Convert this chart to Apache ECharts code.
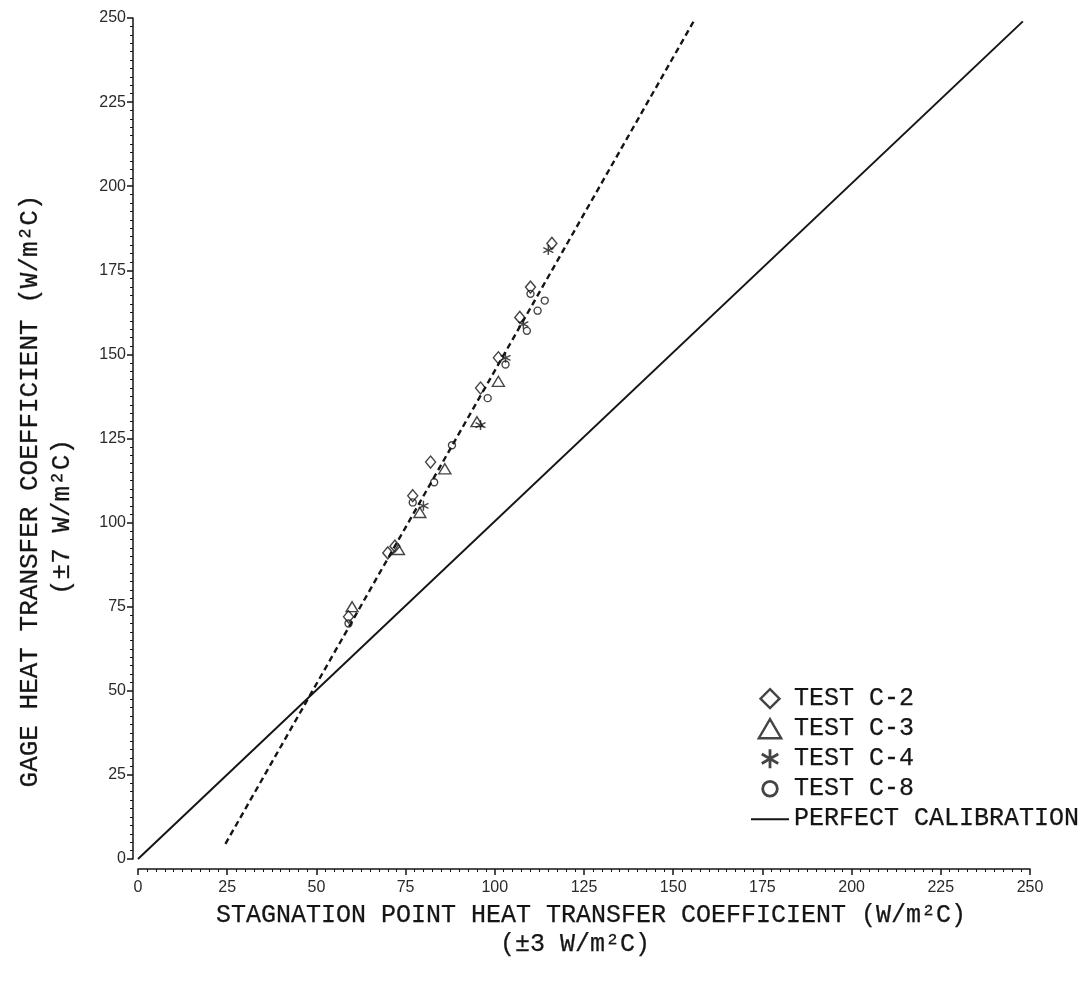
<!DOCTYPE html>
<html>
<head>
<meta charset="utf-8">
<title>Gage vs stagnation point heat transfer coefficient</title>
<script src="https://cdn.jsdelivr.net/npm/echarts@6/dist/echarts.min.js"></script>
<style>
  html, body { margin: 0; padding: 0; background: #ffffff; }
  #chart { width: 1090px; height: 991px; }
</style>
</head>
<body>
<div id="chart"></div>
<script>
// Measured points: [stagnation point h, gage h] in W/m^2C
const testC2 = [[59, 72], [70, 91], [72, 93], [77, 108], [82, 118], [96, 140], [101, 149], [107, 161], [110, 170], [116, 183]];
const testC3 = [[60, 75], [73, 92], [79, 103], [86, 116], [95, 130], [101, 142]];
const testC4 = [[80, 105], [96, 129], [103, 149], [108, 159], [115, 181]];
const testC8 = [[59, 70], [77, 106], [83, 112], [88, 123], [98, 137], [103, 147], [109, 157], [110, 168], [112, 163], [114, 166]];

// Reference lines
const perfectCalibration = [[0, 0], [248, 249]];
const fitLine = [[24.5, 4.5], [156, 249.5]];

// Axis tick values
const xTicks = [0, 25, 50, 75, 100, 125, 150, 175, 200, 225, 250];
const yTicks = [0, 25, 50, 75, 100, 125, 150, 175, 200, 225, 250];

const seriesNames = ['TEST C-2', 'TEST C-3', 'TEST C-4', 'TEST C-8', 'PERFECT CALIBRATION'];

const INK = '#151515';
const MONO = '"Liberation Mono", "DejaVu Sans Mono", monospace';

// Marker outlines (path symbols keep their aspect ratio inside the legend box)
const ASTERISK = 'path://M10,0 L10,20 M1.34,5 L18.66,15 M1.34,15 L18.66,5';
const DIAMOND_ICON = 'path://M10,0 L20,10 L10,20 L0,10 Z';
const TRIANGLE_ICON = 'path://M10,0 L20,17 L0,17 Z';
const CIRCLE_ICON = 'path://M-3,-3 L-3,-3 M0,10 A10,10 0 1,0 20,10 A10,10 0 1,0 0,10 Z M23,23 L23,23';
const LINE_ICON = 'path://M0,0 L0,0 M0,10 L38,10 M38,19 L38,19';

const chart = echarts.init(document.getElementById('chart'), null, { renderer: 'canvas' });

function axisCommon(ticks) {
  return {
    type: 'value',
    min: ticks[0],
    max: ticks[ticks.length - 1],
    interval: ticks[1] - ticks[0],
    axisLine: { show: true, onZero: false, lineStyle: { color: INK, width: 1.5 } },
    axisTick: { show: true, inside: false, length: 6, lineStyle: { color: INK, width: 1.5 } },
    minorTick: { show: true, splitNumber: 10, length: 3, lineStyle: { color: INK, width: 1 } },
    splitLine: { show: false },
    minorSplitLine: { show: false },
    axisLabel: { color: '#2a2a2a', fontFamily: '"Liberation Sans", Arial, sans-serif', fontSize: 16 }
  };
}

const xAxis = axisCommon(xTicks);
xAxis.offset = 10;
xAxis.axisLabel.margin = 11;

const yAxis = axisCommon(yTicks);
yAxis.offset = 5;
yAxis.axisLabel.margin = 7;

const markerStyle = { color: 'rgba(0,0,0,0)', borderColor: INK, borderWidth: 1.4 };
const iconStyle = (w) => ({ color: 'rgba(0,0,0,0)', borderColor: INK, borderWidth: w });

// Thin outline gives the typewriter lettering a little more weight
const STROKE_W = 0.25;

const option = {
  backgroundColor: '#ffffff',
  animation: false,
  grid: { left: 138, right: 60, top: 18, bottom: 132, containLabel: false, outerBoundsMode: 'none' },
  xAxis: xAxis,
  yAxis: yAxis,
  legend: {
    orient: 'vertical',
    left: 745,
    top: 681,
    itemWidth: 38,
    itemHeight: 19,
    itemGap: 4.8,
    symbolKeepAspect: true,
    selectedMode: false,
    textStyle: { color: INK, fontFamily: MONO, fontSize: 25, lineHeight: 25, textBorderColor: INK, textBorderWidth: STROKE_W },
    data: [
      { name: seriesNames[0], icon: DIAMOND_ICON, itemStyle: iconStyle(2.4) },
      { name: seriesNames[1], icon: TRIANGLE_ICON, itemStyle: iconStyle(2.4) },
      { name: seriesNames[2], icon: ASTERISK, itemStyle: iconStyle(2.8) },
      { name: seriesNames[3], icon: CIRCLE_ICON, itemStyle: iconStyle(2.8) },
      { name: seriesNames[4], icon: LINE_ICON, itemStyle: iconStyle(2) }
    ]
  },
  graphic: [
    {
      type: 'text', x: 591, y: 915,
      style: { text: 'STAGNATION POINT HEAT TRANSFER COEFFICIENT (W/m²C)', fill: INK, font: '25px ' + MONO, align: 'center', verticalAlign: 'middle', stroke: INK, lineWidth: STROKE_W }
    },
    {
      type: 'text', x: 575, y: 944,
      style: { text: '(±3 W/m²C)', fill: INK, font: '25px ' + MONO, align: 'center', verticalAlign: 'middle', stroke: INK, lineWidth: STROKE_W }
    },
    {
      type: 'text', x: 30, y: 491, rotation: Math.PI / 2,
      style: { text: 'GAGE HEAT TRANSFER COEFFICIENT (W/m²C)', fill: INK, font: '26px ' + MONO, align: 'center', verticalAlign: 'middle', stroke: INK, lineWidth: STROKE_W }
    },
    {
      type: 'text', x: 62, y: 517, rotation: Math.PI / 2,
      style: { text: '(±7 W/m²C)', fill: INK, font: '26px ' + MONO, align: 'center', verticalAlign: 'middle', stroke: INK, lineWidth: STROKE_W }
    }
  ],
  series: [
    {
      name: 'fit', type: 'line', data: fitLine, symbol: 'none', silent: true,
      lineStyle: { color: INK, width: 2.4, type: [6, 4] }, z: 2
    },
    {
      name: seriesNames[4], type: 'line', data: perfectCalibration, symbol: 'none', silent: true,
      color: INK, lineStyle: { color: INK, width: 2 }, z: 2
    },
    { name: seriesNames[0], type: 'scatter', data: testC2, symbol: 'diamond', symbolSize: [10, 12], itemStyle: markerStyle, z: 3 },
    { name: seriesNames[1], type: 'scatter', data: testC3, symbol: 'triangle', symbolSize: [12, 10], itemStyle: markerStyle, z: 3 },
    { name: seriesNames[2], type: 'scatter', data: testC4, symbol: ASTERISK, symbolSize: 10, itemStyle: markerStyle, z: 3 },
    { name: seriesNames[3], type: 'scatter', data: testC8, symbol: 'circle', symbolSize: 7, itemStyle: markerStyle, z: 3 }
  ]
};

chart.setOption(option);
</script>
</body>
</html>
